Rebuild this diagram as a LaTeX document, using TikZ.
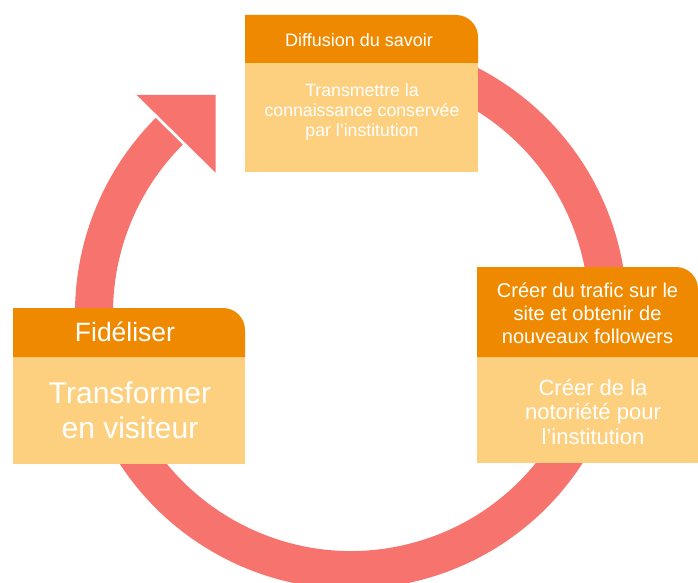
\documentclass[tikz,border=0pt]{standalone}
\usepackage{fontspec}
\setmainfont{Liberation Sans}
\definecolor{hdorange}{HTML}{EF8A00}
\definecolor{bdyellow}{HTML}{FDD07F}
\definecolor{ringred}{HTML}{F7736E}
\newcommand{\tile}[5]{
 \fill[bdyellow] (#1,#2) rectangle (#4,#3);
 \fill[hdorange] (#1,#3) -- (#1,#5) -- (#4-22,#5) arc[start angle=90,end angle=0,radius=22] -- (#4,#3) -- cycle;}

\begin{document}
\begin{tikzpicture}[x=1pt,y=1pt,
 hd/.style={text=white,align=center,inner sep=0pt},
 bd/.style={text=white,align=center,inner sep=0pt}]
\useasboundingbox (0,0) rectangle (698,582);
\coordinate (c) at (351,269);
\draw[ringred,line width=38pt] (c) ++(105:257) arc[start angle=105,end angle=-225,radius=257];
\fill[ringred] (136.7,487) -- (215.7,487) -- (215.7,409.3) -- cycle;
\tile{245}{410}{519}{478}{567}
\tile{477}{119}{225}{698}{315}
\tile{13}{118}{225}{245}{274}
\node[hd,font=\fontsize{18}{20}\selectfont] (diffh) at (359,542) {Diffusion du savoir};
\node[bd,font=\fontsize{17.7}{20}\selectfont] (diffb) at (362,470) {Transmettre la\\connaissance conservée\\par l’institution};
\node[hd,font=\fontsize{20}{23}\selectfont] (trafh) at (587.5,269) {Créer du trafic sur le\\site et obtenir de\\nouveaux followers};
\node[bd,font=\fontsize{22}{24.5}\selectfont] (trafb) at (593,170) {Créer de la\\notoriété pour\\l’institution};
\node[hd,font=\fontsize{26.5}{30}\selectfont] (fidh) at (125,250) {Fidéliser};
\node[bd,font=\fontsize{30}{35}\selectfont] (fidb) at (130,172) {Transformer\\en visiteur};
\end{tikzpicture}
\end{document}
